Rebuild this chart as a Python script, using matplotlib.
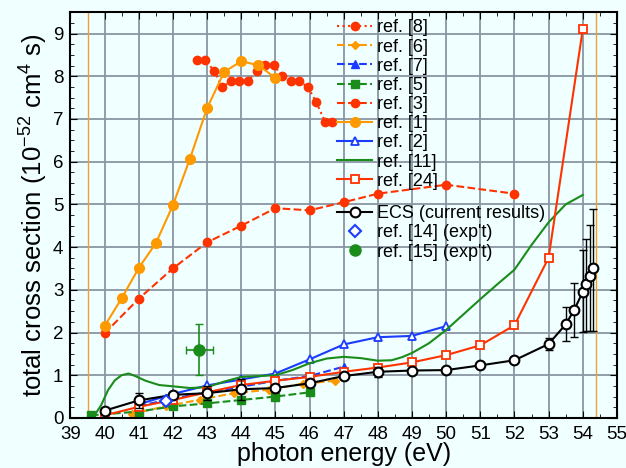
import numpy as np
import matplotlib
matplotlib.use('Agg')
import matplotlib.pyplot as plt
from matplotlib.lines import Line2D
from matplotlib.ticker import MultipleLocator

plt.rcParams['font.family'] = ['Liberation Sans', 'DejaVu Sans']
plt.rcParams['mathtext.default'] = 'regular'

# ------------------------
# data
# ------------------------

# ref. [8]
e8 = [42.7, 42.95, 43.2, 43.45, 43.7, 43.95, 44.2, 44.45, 44.7, 44.95, 45.2,
      45.45, 45.7, 45.95, 46.2, 46.45, 46.65]
s8 = [8.38, 8.38, 8.13, 7.75, 7.88, 7.88, 7.88, 8.13, 8.26, 8.26, 8.0,
      7.88, 7.88, 7.75, 7.39, 6.94, 6.94]

# ref. [6]
e6 = [40.8, 41.8, 42.8, 43.8, 44.8, 45.8, 46.75]
s6 = [0.1, 0.27, 0.43, 0.58, 0.66, 0.8, 0.87]

# ref. [7]
e7 = [41, 42, 43, 44, 45, 46, 47]
s7 = [0.28, 0.45, 0.6, 0.73, 0.87, 0.98, 1.2]

# ref. [5]
e5 = [39.6, 41, 42, 43, 44, 45, 46]
s5 = [0.06, 0.15, 0.27, 0.34, 0.42, 0.5, 0.6]

# ref. [3]
e3 = [40, 41, 42, 43, 44, 45, 46, 47, 48, 50, 52]
s3 = [1.98, 2.79, 3.5, 4.11, 4.5, 4.91, 4.86, 5.05, 5.25, 5.46, 5.25]

# ref. [1]
e1 = [40, 40.5, 41, 41.5, 42, 42.5, 43, 43.5, 44, 44.5, 45]
s1 = [2.15, 2.8, 3.51, 4.09, 4.98, 6.07, 7.25, 8.1, 8.35, 8.26, 7.96]

# ref. [2]
e2 = [41, 42, 43, 44, 45, 46, 47, 48, 49, 50]
s2 = [0.32, 0.56, 0.76, 0.9, 1.04, 1.37, 1.72, 1.89, 1.92, 2.15]

# ref. [11]
e11 = [39.68, 39.9, 40.1, 40.3, 40.5, 40.7, 40.9, 41.2, 41.6, 42.0, 42.5, 43.0,
       43.5, 44.0, 44.5, 45.0, 45.5, 46.0, 46.5, 47.0, 47.5, 48.0, 48.4, 48.7,
       49.0, 49.5, 50.0, 50.5, 51.0, 51.5, 52.0, 52.5, 53.0, 53.5, 54.0]
s11 = [0.03, 0.3, 0.65, 0.88, 1.0, 1.04, 0.98, 0.87, 0.77, 0.74, 0.7, 0.72,
       0.85, 0.96, 0.98, 1.0, 1.12, 1.28, 1.39, 1.43, 1.4, 1.34, 1.35, 1.42,
       1.52, 1.75, 2.06, 2.42, 2.78, 3.13, 3.47, 4.05, 4.58, 5.0, 5.22]

# ref. [24]
e24 = [40, 41, 42, 43, 44, 45, 46, 47, 48, 49, 50, 51, 52, 53, 54]
s24 = [0.06, 0.26, 0.42, 0.6, 0.77, 0.87, 0.96, 1.08, 1.18, 1.3, 1.47, 1.7,
       2.17, 3.75, 9.1]

# ECS (current results)
e_ecs = [40, 41, 42, 43, 44, 45, 46, 47, 48, 49, 50, 51, 52, 53,
         53.5, 53.75, 54.0, 54.1, 54.2, 54.3]
s_ecs = [0.17, 0.41, 0.54, 0.58, 0.67, 0.7, 0.81, 0.98, 1.08, 1.11, 1.12,
         1.23, 1.35, 1.73, 2.19, 2.53, 2.95, 3.14, 3.32, 3.51]
err_lo = [0.06, 0.17, 0.05, 0.17, 0.24, 0.08, 0.05, 0.05, 0.12, 0.03, 0.03,
          0.03, 0.03, 0.13, 0.4, 0.63, 0.93, 1.1, 1.28, 1.47]
err_hi = [0.06, 0.17, 0.05, 0.17, 0.24, 0.08, 0.05, 0.05, 0.12, 0.03, 0.03,
          0.03, 0.03, 0.13, 0.4, 0.63, 0.98, 1.06, 1.2, 1.38]

# experiments
e14, s14 = [41.8], [0.4]
e15, s15 = [42.77], [1.6]
e15_err, s15_err = [0.4], [0.6]

# thresholds
thresholds = [39.5, 54.4]

# ------------------------

red = '#ff3300'
orange = '#ff9900'
blue = '#1a3cff'
green = '#1a8c1a'
bg = '#f0ffff'

fig = plt.figure(figsize=(6.26, 4.68), dpi=100, facecolor=bg)
ax = fig.add_axes([0.1125, 0.107, 0.873, 0.867])
ax.set_facecolor(bg)

for t in thresholds:
    ax.axvline(t, color='#f0a030', lw=1, zorder=1)

l8, = ax.plot(e8, s8, ':', color=red, marker='o', ms=6, lw=1.5, label='ref. [8]')
l6, = ax.plot(e6, s6, '--', color=orange, marker='D', ms=4.5, lw=1.5, label='ref. [6]')
l7, = ax.plot(e7, s7, '--', color=blue, marker='^', ms=6, lw=1.5, label='ref. [7]')
l5, = ax.plot(e5, s5, '--', color=green, marker='s', ms=5.5, lw=1.5, label='ref. [5]')
l3, = ax.plot(e3, s3, '--', color=red, marker='o', ms=6, lw=1.5, label='ref. [3]')
l1, = ax.plot(e1, s1, '-', color=orange, marker='o', ms=7, lw=1.5, label='ref. [1]')
l2, = ax.plot(e2, s2, '-', color=blue, marker='^', ms=6, mfc='white', mew=1.3,
              lw=1.5, label='ref. [2]')
l11, = ax.plot(e11, s11, '-', color=green, lw=1.5, label='ref. [11]')
l24, = ax.plot(e24, s24, '-', color=red, marker='s', ms=5.5, mfc='white', mew=1.3,
               lw=1.5, label='ref. [24]')

ax.errorbar(e_ecs, s_ecs, yerr=[err_lo, err_hi], fmt='none', ecolor='black',
            elinewidth=1, capsize=3, zorder=5)
ax.plot(e_ecs, s_ecs, '-', color='black', marker='o', ms=7, mfc='white',
        mew=1.5, lw=1.5, zorder=6)
ax.plot(e14, s14, 'D', color=blue, ms=6, mfc='white', mew=1.5, zorder=6)
ax.errorbar(e15, s15, xerr=e15_err, yerr=s15_err, fmt='o', color=green,
            ms=8, elinewidth=1.2, capsize=3, zorder=6)

ax.set_xlim(39, 55)
ax.set_ylim(0, 9.5)
ax.xaxis.set_major_locator(MultipleLocator(1))
ax.xaxis.set_minor_locator(MultipleLocator(0.5))
ax.yaxis.set_major_locator(MultipleLocator(1))
ax.yaxis.set_minor_locator(MultipleLocator(0.25))
ax.grid(True, which='major', color='#8a96a3', lw=1.3)
ax.set_axisbelow(True)
ax.tick_params(which='both', direction='in', top=True, right=True, labelsize=13.5)
ax.tick_params(axis='x', pad=6)
ax.tick_params(axis='y', pad=5)
ax.tick_params(which='major', length=5)
ax.tick_params(which='minor', length=3)
for sp in ax.spines.values():
    sp.set_linewidth(1.5)

ax.set_xlabel('photon energy (eV)', fontsize=18, labelpad=-1)
ax.set_ylabel(r'total cross section (10$^{-52}$ cm$^{4}$ s)', fontsize=18.5, labelpad=2)

leg1 = ax.legend(handles=[l8, l6, l7, l5, l3, l1, l2, l11, l24],
                 loc='upper left', bbox_to_anchor=(0.475, 1.0), frameon=False,
                 fontsize=13, handlelength=1.95, handletextpad=0.28,
                 labelspacing=0.12, borderaxespad=0)
ax.add_artist(leg1)

h_ecs = Line2D([], [], color='black', marker='o', ms=7, mfc='white', mew=1.5, lw=1.5)
h14 = Line2D([], [], ls='none', color=blue, marker='D', ms=6, mfc='white', mew=1.5)
h15 = Line2D([], [], ls='none', color=green, marker='o', ms=8)
ax.legend([h_ecs, h14, h15],
          ['ECS (current results)', "ref. [14] (exp't)", "ref. [15] (exp't)"],
          loc='upper left', bbox_to_anchor=(0.475, 0.542), frameon=False,
          fontsize=13, handlelength=1.95, handletextpad=0.28,
          labelspacing=0.12, borderaxespad=0)

fig.savefig('out.png', dpi=100, facecolor=bg)
